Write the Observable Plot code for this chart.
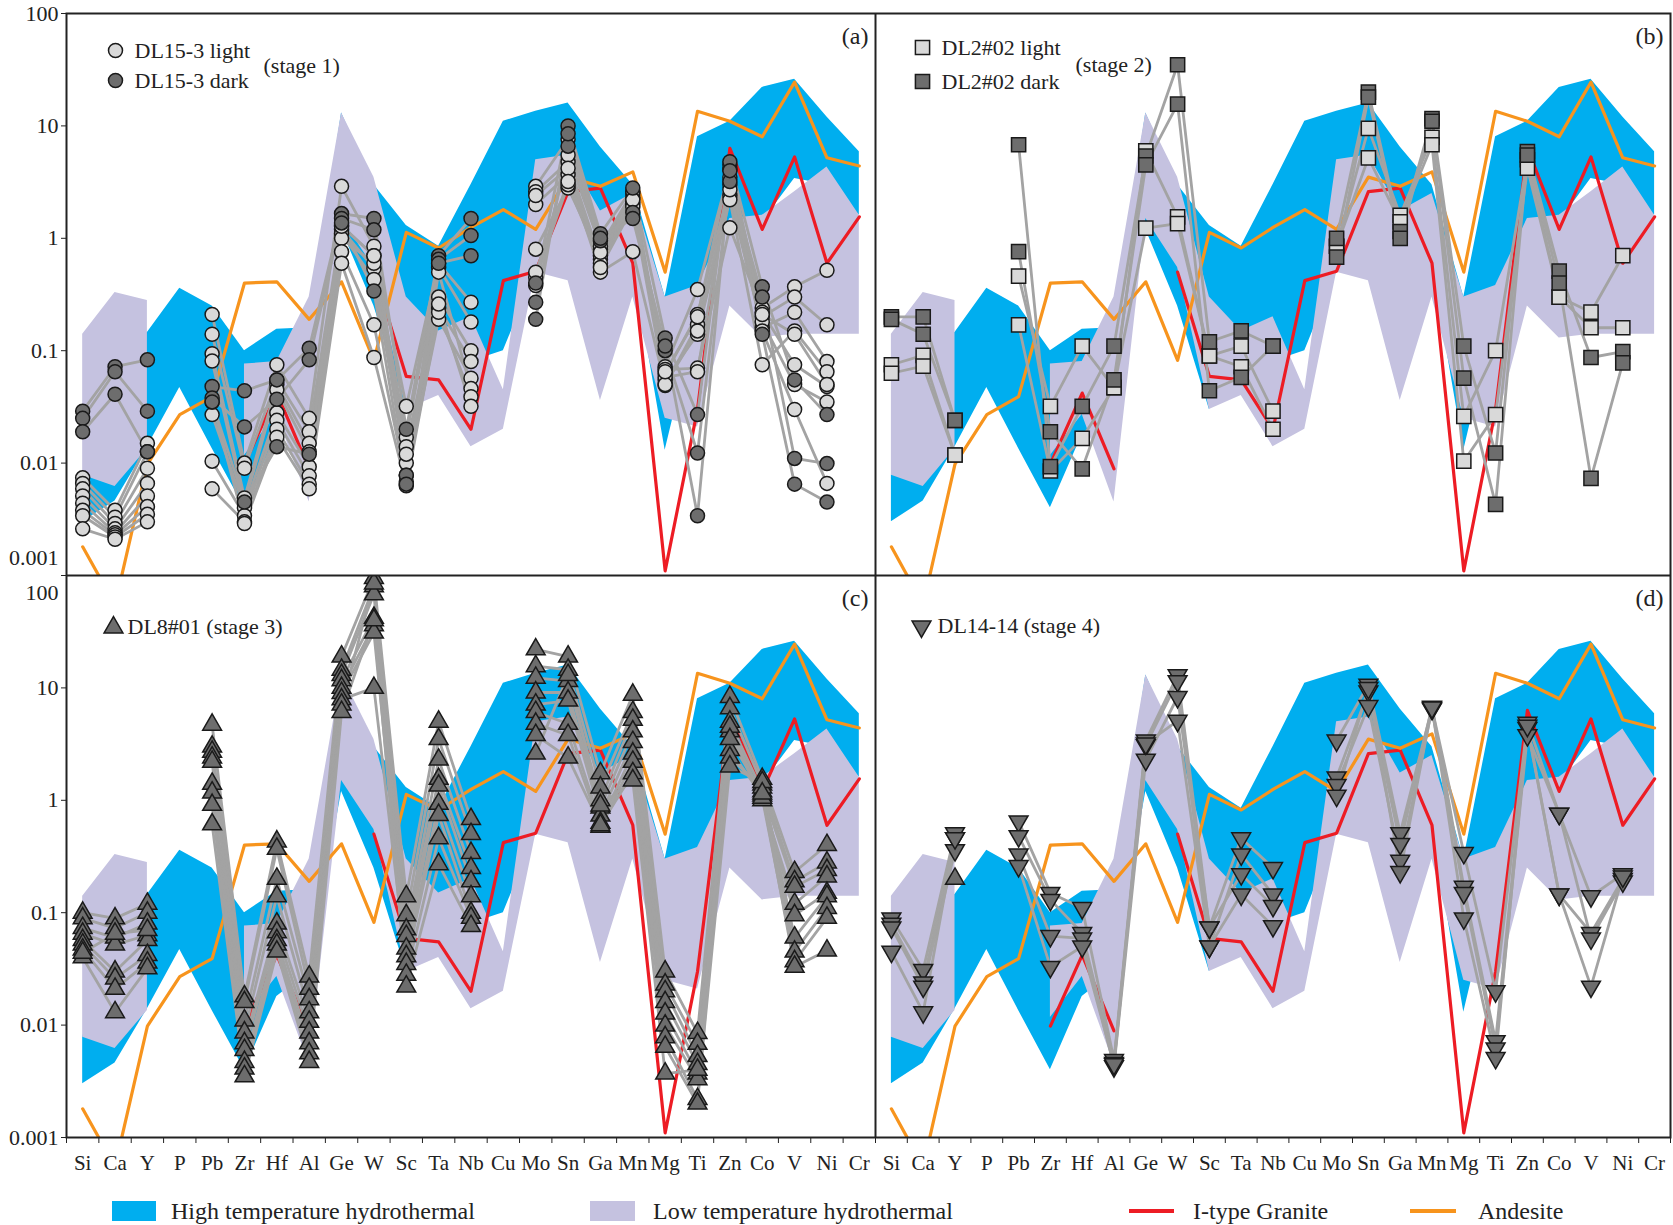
<!DOCTYPE html>
<html><head><meta charset="utf-8">
<script src="https://cdn.jsdelivr.net/npm/d3@7"></script>
<script src="https://cdn.jsdelivr.net/npm/@observablehq/plot@0.6"></script>
<style>
body{margin:0;background:#fff;}
#wrap{position:relative;width:1673px;height:1225px;overflow:hidden;background:#fff;font-family:"Liberation Serif","Times New Roman",serif;color:#222;}
.pn{position:absolute;}
.leg{position:absolute;font-size:24px;line-height:24px;white-space:nowrap;}
.sw{position:absolute;}
</style></head><body><div id="wrap"></div>
<script>
const elements = ["Si","Ca","Y","P","Pb","Zr","Hf","Al","Ge","W","Sc","Ta","Nb","Cu","Mo","Sn","Ga","Mn","Mg","Ti","Zn","Co","V","Ni","Cr"];
const yTickValues = [0.001, 0.01, 0.1, 1, 10, 100];
const yTickLabels = ["0.001", "0.01", "0.1", "1", "10", "100"];

// Reference fields (same order as elements)
const highTempLower = [0.003,0.0046,0.014,0.047,0.0135,0.004,0.018,0.03,1.2,0.25,0.03,0.12,0.08,0.1,0.5,1.5,1.0,0.6,0.013,0.2,1.4,1.4,3.4,3.0,1.6];
const highTempUpper = [0.0078,0.12,0.145,0.36,0.25,0.1,0.155,0.16,13,3.0,1.3,0.85,3.0,11,13.5,16,6.5,3.0,0.3,8,11,22,26,12,5.9];
const lowTempLower = [0.0078,0.0062,0.0135,null,null,0.0117,0.027,0.0045,1.5,0.55,0.03,0.04,0.014,0.02,0.5,0.42,0.036,0.3,0.025,0.021,0.25,0.13,0.14,0.14,0.14];
const lowTempUpper = [0.14,0.33,0.28,null,null,0.076,0.08,0.3,13,3.5,0.3,0.15,0.2,0.045,5,5.5,1.75,2.5,0.3,0.38,1.5,1.6,2.6,4.3,1.6];
const iTypeGranite = [null,null,null,null,null,0.0098,0.042,0.0089,null,0.5,0.059,0.055,0.02,0.42,0.51,2.6,2.8,0.6,0.0011,0.03,6.3,1.2,5.3,0.6,1.55];
const andesite = [0.0018,0.00055,0.0098,0.027,0.039,0.4,0.41,0.19,0.41,0.082,1.13,0.82,1.25,1.8,1.2,3.5,2.9,3.9,0.5,13.5,11,8,24.5,5.2,4.4];

// Stage 1: DL15-3 (one row per analysis spot)
const stage1Light = [
 [0.0074,0.0038,0.015,null,0.21,0.01,0.075,0.025,2.9,0.85,0.032,0.6,0.27,null,2.9,7.6,0.8,2.5,0.072,0.35,4.1,0.24,0.37,0.52,null],
 [0.0066,0.0033,0.0126,null,0.14,0.009,0.055,0.019,1.3,0.7,0.017,0.55,0.18,null,2.6,4.8,0.65,2.1,0.062,0.21,3.0,0.2,0.3,0.17,null],
 [0.0059,0.0029,0.009,null,0.094,0.0049,0.05,0.015,1.2,0.54,0.014,0.3,0.1,null,2.0,3.7,0.5,0.76,0.049,0.17,2.4,0.16,0.22,0.08,null],
 [0.0051,0.0026,0.0066,null,0.081,0.0044,0.045,0.0126,1.1,0.43,0.01,0.24,0.08,null,0.8,2.8,0.7,2.3,0.055,0.14,2.2,0.075,0.15,0.065,null],
 [0.0044,0.0024,0.0051,null,0.027,0.004,0.028,0.0093,1.0,0.6,0.0078,0.19,0.057,null,0.45,3.0,0.6,2.0,0.068,0.07,1.24,0.22,0.075,0.048,null],
 [0.0038,0.0023,0.0041,null,0.0104,0.0034,0.024,0.0077,0.76,0.17,0.0068,0.5,0.046,null,0.38,5.5,0.85,2.6,0.058,0.065,3.5,0.18,0.05,0.035,null],
 [0.0034,0.0022,0.0035,null,0.0059,0.003,0.02,0.0065,0.6,0.087,0.0063,0.22,0.039,null,2.4,4.2,0.55,1.9,0.05,0.15,2.7,0.15,0.03,0.0066,null],
 [0.0026,0.0021,0.003,null,0.035,0.0029,0.017,0.0059,1.28,0.7,0.012,0.26,0.032,null,0.5,3.2,0.75,2.2,0.065,0.2,4.5,0.21,0.14,0.05,null]
];
const stage1Dark = [
 [0.029,0.072,0.083,null,0.048,0.044,0.055,0.105,1.66,1.5,0.02,0.7,1.5,null,0.4,10,1.1,2.8,0.13,0.027,4.8,0.37,0.055,0.027,null],
 [0.025,0.065,0.029,null,0.038,0.021,0.037,0.083,1.5,1.19,0.0078,0.65,1.06,null,0.27,6.6,0.95,1.7,0.1,0.0123,3.2,0.3,0.011,0.0099,null],
 [0.019,0.041,0.0126,null,0.035,0.0045,0.014,0.012,1.37,0.34,0.0065,0.6,0.7,null,0.19,8.5,1.0,1.5,0.11,0.0034,4.0,0.14,0.0065,0.0045,null]
];
// Stage 2: DL2#02
const stage2Light = [
 [0.075,0.091,0.0118,null,0.46,0.032,0.11,0.047,6.0,1.55,0.09,0.11,0.029,null,0.85,9.5,1.6,7.9,0.026,0.1,5.0,0.3,0.22,0.7,null],
 [0.063,0.073,0.0118,null,0.17,0.0085,0.0166,0.047,1.23,1.35,0.09,0.072,0.02,null,0.85,5.2,1.4,6.8,0.0104,0.027,4.2,0.3,0.16,0.16,null]
];
const stage2Dark = [
 [0.2,0.2,0.024,null,6.8,0.0093,0.032,0.11,5.4,35,0.12,0.15,0.11,null,1.0,20,1.15,11.6,0.11,0.0123,5.9,0.51,0.087,0.098,null],
 [0.19,0.14,0.024,null,0.76,0.019,0.0089,0.055,4.5,15.6,0.044,0.058,0.11,null,0.68,18,1.0,11,0.057,0.0043,5.5,0.4,0.0073,0.078,null]
];
// Stage 3: DL8#01
const stage3 = [
 [0.1,0.089,0.12,null,4.7,0.018,0.43,0.027,19,95,0.14,5.0,0.68,null,22,19,1.74,8.7,0.03,0.0085,8.3,1.55,0.23,0.4,null],
 [0.089,0.073,0.1,null,3.0,0.016,0.37,0.021,14.5,80,0.095,3.5,0.5,null,15.6,14.5,1.3,6.1,0.023,0.0068,6.6,1.38,0.19,0.28,null],
 [0.073,0.06,0.08,null,2.7,0.011,0.2,0.017,13,68,0.071,2.3,0.34,null,12.3,11.5,1.0,5.2,0.02,0.0053,5.0,1.2,0.17,0.24,null],
 [0.065,0.052,0.063,null,2.4,0.0086,0.14,0.013,11.7,42,0.062,1.55,0.25,null,9.1,9.1,0.86,4.1,0.016,0.0045,4.1,1.0,0.12,0.21,null],
 [0.057,0.03,0.057,null,2.2,0.0069,0.08,0.0107,10,36,0.048,1.35,0.19,null,7.1,7.7,0.73,3.3,0.0127,0.0037,2.8,1.1,0.095,0.15,null],
 [0.052,0.026,0.042,null,1.4,0.006,0.067,0.0086,9,31,0.041,0.93,0.14,null,6.1,4.8,0.63,2.6,0.0099,0.0033,2.4,1.3,0.06,0.14,null],
 [0.047,0.021,0.036,null,1.17,0.0047,0.057,0.0069,7.9,10,0.035,0.74,0.1,null,4.8,3.8,0.58,2.2,0.0078,0.0022,2.0,1.45,0.045,0.11,null],
 [0.04,0.013,0.032,null,0.91,0.0041,0.052,0.0056,7.1,85,0.028,0.46,0.09,null,3.8,2.4,0.6,1.74,0.0064,0.002,4.5,1.05,0.037,0.09,null],
 [0.044,0.065,0.07,null,0.61,0.0035,0.045,0.0047,6.1,40,0.022,0.27,0.076,null,2.6,13,0.9,1.5,0.0037,0.004,3.5,1.15,0.033,0.046,null]
];
// Stage 4: DL14-14
const stage4 = [
 [0.089,0.031,0.51,null,0.65,0.15,0.11,0.0049,3.4,13,0.074,0.46,0.25,null,3.4,10.7,0.51,6.6,0.34,0.02,4.9,0.76,0.14,0.22,null],
 [0.08,0.024,0.46,null,0.48,0.13,0.066,0.0046,3.1,11.5,0.05,0.33,0.145,null,1.6,9.3,0.41,6.8,0.17,0.0072,4.4,0.145,0.066,0.2,null],
 [0.074,0.022,0.36,null,0.33,0.062,0.059,0.0043,2.3,8.3,0.074,0.22,0.115,null,1.37,6.9,0.29,6.5,0.15,0.0062,3.8,0.76,0.059,0.19,null],
 [0.045,0.013,0.46,null,0.26,0.033,0.05,0.0045,3.2,5.1,0.05,0.145,0.076,null,1.1,10,0.23,6.7,0.089,0.0051,4.6,0.145,0.022,0.21,null]
];
const stage4UpTriangleY = [0.2];

// ---------- helpers ----------
const FONT = "Liberation Serif, Times New Roman, serif";
const BLUE = "#00aeef", LAV = "#c5c2e0", RED = "#ed1c24", ORANGE = "#f7941d";
const LINEGREY = "#a3a3a3", LIGHT = "#d9d9d9", DARK = "#6d6d6d", MSTROKE = "#1a1a1a";
const sqrt3 = Math.sqrt(3);
const triDown = {draw(ctx, size) {
  const y = -Math.sqrt(size / (sqrt3 * 3));
  ctx.moveTo(0, -y * 2); ctx.lineTo(-sqrt3 * y, y); ctx.lineTo(sqrt3 * y, y); ctx.closePath();
}};
const band = (lo, hi) => elements.map((e, i) => ({i, lo: lo[i], hi: hi[i]}));
const series = vals => elements.map((e, i) => ({i, v: vals[i]}));
const spots = (rows, tag) => rows.flatMap((r, s) => r.map((v, i) => ({spot: tag + s, i, v})));

function panel(cfg) {
  const spotData = cfg.groups.flatMap(g => spots(g.rows, g.tag));
  const dotMarks = cfg.groups.map(g => Plot.dot(spots(g.rows, g.tag).filter(d => d.v != null),
    {x: "i", y: "v", symbol: g.symbol, r: g.r, fill: g.fill, stroke: MSTROKE, strokeWidth: 1.5}));
  const ticks = yTickValues.map((v, k) => ({v, t: yTickLabels[k]}));
  const marks = [
    Plot.areaY(band(highTempLower, highTempUpper), {x: "i", y1: "lo", y2: "hi", fill: BLUE, clip: true}),
    Plot.areaY(band(lowTempLower, lowTempUpper), {x: "i", y1: "lo", y2: "hi", fill: LAV, clip: true}),
    Plot.line(series(iTypeGranite), {x: "i", y: "v", stroke: RED, strokeWidth: 3.2, clip: true}),
    Plot.line(series(andesite), {x: "i", y: "v", stroke: ORANGE, strokeWidth: 3.2, clip: true}),
    Plot.line(spotData, {x: "i", y: "v", z: "spot", stroke: LINEGREY, strokeWidth: 2.8, clip: true}),
    ...(cfg.extra || []),
    ...dotMarks,
    Plot.frame({stroke: "#222", strokeWidth: 2}),
    Plot.text([cfg.label], {frameAnchor: "top-right", lineAnchor: "middle", dx: -7, dy: 23, text: d => d, fontSize: 24, fontFamily: FONT, fill: "#222"}),
    ...cfg.legend
  ];
  if (cfg.showY) {
    marks.push(Plot.text(ticks.filter(d => d.t !== cfg.shiftLabel), {y: "v", text: "t", frameAnchor: "left", textAnchor: "end", dx: -8, fontSize: 22, fontFamily: FONT, fill: "#222"}));
    marks.push(Plot.text(ticks.filter(d => d.t === cfg.shiftLabel), {y: "v", text: "t", frameAnchor: "left", textAnchor: "end", dx: -8, dy: cfg.shiftDy, fontSize: 22, fontFamily: FONT, fill: "#222"}));
  }
  if (cfg.showX) {
    marks.push(Plot.text(elements, {x: (d, i) => i, text: d => d, frameAnchor: "bottom", lineAnchor: "middle", dy: 26, fontSize: 21, fontFamily: FONT, fill: "#222"}));
  }
  const svg = Plot.plot({
    width: cfg.width, height: cfg.height,
    marginLeft: cfg.ml, marginRight: cfg.mr, marginTop: cfg.mt, marginBottom: cfg.mb,
    x: {type: "linear", domain: [-0.5, 24.5], axis: cfg.showX ? "bottom" : null, ticks: d3.range(-0.5, 25, 1), tickFormat: () => "", tickSize: 6, label: null},
    y: {type: "log", domain: [0.001, 100], axis: cfg.showY ? "left" : null, ticks: yTickValues, tickFormat: () => "", tickSize: 5, label: null},
    style: {background: "transparent", fontFamily: FONT, color: "#222"},
    marks
  });
  svg.classList.add("pn");
  svg.style.left = cfg.left + "px";
  svg.style.top = cfg.top + "px";
  document.getElementById("wrap").appendChild(svg);
}

const legText = (t, dx, dy) => Plot.text([t], {frameAnchor: "top-left", lineAnchor: "middle", dx, dy, text: d => d, textAnchor: "start", fontSize: 22, fontFamily: FONT, fill: "#222"});
const legDot = (symbol, fill, r, dx, dy) => Plot.dot([0], {frameAnchor: "top-left", dx, dy, symbol, fill, r, stroke: MSTROKE, strokeWidth: 1.5});

panel({left: 0, top: 0, width: 875, height: 575, ml: 66, mr: 0, mt: 13, mb: 0, showY: true, shiftLabel: "0.001", shiftDy: -18, label: "(a)",
  groups: [{rows: stage1Light, tag: "L", symbol: "circle", r: 7, fill: LIGHT}, {rows: stage1Dark, tag: "D", symbol: "circle", r: 7, fill: DARK}],
  legend: [legDot("circle", LIGHT, 7, 49, 37), legText("DL15-3 light", 68, 37), legDot("circle", DARK, 7, 49, 67), legText("DL15-3 dark", 68, 67), legText("(stage 1)", 197, 52)]});

panel({left: 875, top: 0, width: 798, height: 575, ml: 0, mr: 3, mt: 13, mb: 0, label: "(b)",
  groups: [{rows: stage2Light, tag: "L", symbol: "square", r: 8, fill: LIGHT}, {rows: stage2Dark, tag: "D", symbol: "square", r: 8, fill: DARK}],
  legend: [legDot("square", LIGHT, 8, 47, 34), legText("DL2#02 light", 66, 34), legDot("square", DARK, 8, 47, 68), legText("DL2#02 dark", 66, 68), legText("(stage 2)", 200, 51)]});

panel({left: 0, top: 575, width: 875, height: 612, ml: 66, mr: 0, mt: 0, mb: 50, showY: true, showX: true, shiftLabel: "100", shiftDy: 17, label: "(c)",
  groups: [{rows: stage3, tag: "T", symbol: "triangle", r: 7, fill: DARK}],
  legend: [legDot("triangle", DARK, 7, 47, 52), legText("DL8#01 (stage 3)", 61, 51)]});

panel({left: 875, top: 575, width: 798, height: 612, ml: 0, mr: 3, mt: 0, mb: 50, showX: true, label: "(d)",
  groups: [{rows: stage4, tag: "V", symbol: triDown, r: 7, fill: DARK}],
  extra: [Plot.dot(stage4UpTriangleY.map(v => ({i: elements.indexOf("Y"), v})), {x: "i", y: "v", symbol: "triangle", r: 7, fill: DARK, stroke: MSTROKE, strokeWidth: 1.5})],
  legend: [legDot(triDown, DARK, 7, 46, 51), legText("DL14-14 (stage 4)", 62, 50)]});

// bottom legend
const wrap = document.getElementById("wrap");
const legItems = [
  {type: "box", color: BLUE, x: 112, w: 44, text: "High temperature hydrothermal", tx: 171},
  {type: "box", color: LAV, x: 590, w: 45, text: "Low temperature hydrothermal", tx: 653},
  {type: "line", color: RED, x: 1129, w: 45, text: "I-type Granite", tx: 1193},
  {type: "line", color: ORANGE, x: 1410, w: 46, text: "Andesite", tx: 1478}
];
for (const it of legItems) {
  const s = document.createElement("div");
  s.className = "sw";
  s.style.left = it.x + "px"; s.style.width = it.w + "px"; s.style.background = it.color;
  if (it.type === "box") { s.style.top = "1201px"; s.style.height = "20px"; }
  else { s.style.top = "1209px"; s.style.height = "4px"; }
  wrap.appendChild(s);
  const t = document.createElement("div");
  t.className = "leg"; t.textContent = it.text;
  t.style.left = it.tx + "px"; t.style.top = "1199px";
  wrap.appendChild(t);
}
</script></body></html>
